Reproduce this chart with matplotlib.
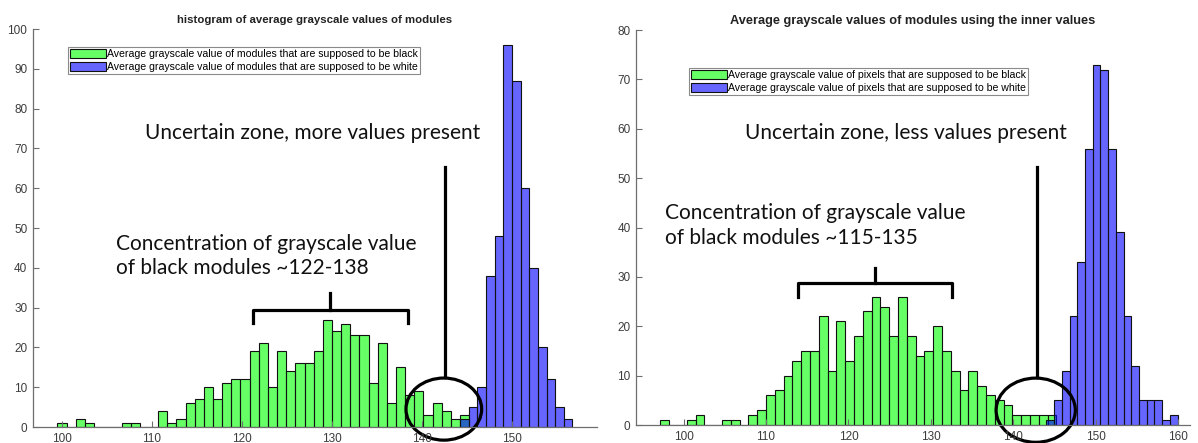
import numpy as np
import matplotlib
matplotlib.use("Agg")
import matplotlib.pyplot as plt
from matplotlib.patches import Ellipse

# ---- data (histogram counts) ----
# every series was binned on its own, so each one has its own first edge and bin width
left_black_counts = [1, 0, 2, 1, 0, 0, 0, 1, 1, 0, 0, 4, 1, 2, 6, 7, 10, 7, 11, 12,
                     12, 19, 21, 10, 19, 14, 16, 16, 19, 27, 24, 26, 23, 23, 11, 21, 6, 15, 8, 9,
                     3, 6, 4, 2, 3]
left_black_bins = (99.5, 1.016)      # first edge, width
left_white_counts = [2, 5, 10, 38, 48, 96, 87, 60, 40, 20, 12, 5, 2]
left_white_bins = (144.2, 0.96)

right_black_counts = [1, 0, 0, 1, 2, 0, 0, 1, 1, 0, 2, 3, 6, 7, 10, 13, 15, 15, 22, 11,
                      21, 13, 18, 23, 26, 24, 18, 26, 18, 14, 15, 20, 15, 11, 7, 11, 8, 6, 5, 4,
                      2, 2, 2, 2, 2]
right_black_bins = (97.2, 1.067)
right_white_counts = [1, 5, 11, 22, 33, 56, 73, 72, 56, 39, 22, 12, 5, 5, 5, 1, 2]
right_white_bins = (144.0, 0.935)

left_title = "histogram of average grayscale values of modules"
right_title = "Average grayscale values of modules using the inner values"
left_labels = ["Average grayscale value of modules that are supposed to be black",
               "Average grayscale value of modules that are supposed to be white"]
right_labels = ["Average grayscale value of pixels that are supposed to be black",
                "Average grayscale value of pixels that are supposed to be white"]

GREEN = (0.0, 1.0, 0.0, 0.6)
BLUE = (0.0, 0.0, 1.0, 0.6)
AXCOL = "#6e6e6e"
TXTCOL = "#3c3c3c"

plt.rcParams["font.family"] = ["Liberation Sans", "DejaVu Sans"]

fig = plt.figure(figsize=(11.98, 4.43), dpi=100)
ax1 = fig.add_axes([0.0275, 0.0361, 0.4708, 0.8984])
ax2 = fig.add_axes([0.5309, 0.0406, 0.4624, 0.8916])


def draw_series(ax, counts, bins, color, label):
    start, w = bins
    x = start + w * np.arange(len(counts))
    ax.bar(x, counts, width=w, align="edge", color=color, edgecolor="#111111",
           linewidth=0.8, label=label)


def style_axes(ax, xlim, ylim, yticks, xticks, title, title_size):
    ax.set_xlim(*xlim)
    ax.set_ylim(*ylim)
    ax.set_yticks(yticks)
    ax.set_xticks(xticks)
    for s in ["top", "right"]:
        ax.spines[s].set_visible(False)
    for s in ["left", "bottom"]:
        ax.spines[s].set_color(AXCOL)
        ax.spines[s].set_linewidth(0.9)
    ax.tick_params(direction="in", length=4, width=0.8, color=AXCOL,
                   labelsize=8.5, labelcolor=TXTCOL, pad=4)
    ax.set_title(title, fontsize=title_size, fontweight="bold", color="#222222", pad=4)


def add_legend(ax, anchor):
    leg = ax.legend(loc="upper left", bbox_to_anchor=anchor, borderaxespad=0,
                    fontsize=7.6, frameon=True, fancybox=False, edgecolor="#8a8a8a",
                    framealpha=1, handlelength=3.4, handleheight=1.0, handletextpad=0.1,
                    labelspacing=0.25, borderpad=0.2)
    leg.get_frame().set_linewidth(0.8)


def bracket(ax, x0, x1, y, yend, ytop):
    xc = (x0 + x1) / 2
    ax.plot([x0, x0, x1, x1], [yend, y, y, yend], color="k", lw=2.3,
            solid_joinstyle="round", clip_on=False)
    ax.plot([xc, xc], [y, ytop], color="k", lw=2.3, clip_on=False)


draw_series(ax1, left_black_counts, left_black_bins, GREEN, left_labels[0])
draw_series(ax1, left_white_counts, left_white_bins, BLUE, left_labels[1])
style_axes(ax1, (96.78, 159.4), (0, 100), range(0, 101, 10), range(100, 151, 10),
           left_title, 8.2)
add_legend(ax1, (0.062, 0.955))

draw_series(ax2, right_black_counts, right_black_bins, GREEN, right_labels[0])
draw_series(ax2, right_white_counts, right_white_bins, BLUE, right_labels[1])
style_axes(ax2, (94.24, 161.4), (0, 80), range(0, 81, 10), range(100, 161, 10),
           right_title, 9.2)
add_legend(ax2, (0.0957, 0.905))

# ---- annotations ----
ann_font = dict(family=["Lato", "DejaVu Sans"], fontsize=15.0, color="#111111")

ax1.text(109.2, 73.9, "Uncertain zone, more values present", ha="left", va="center", **ann_font)
ax1.text(106.0, 46.0, "Concentration of grayscale value", ha="left", va="center", **ann_font)
ax1.text(106.0, 40.0, "of black modules ~122-138", ha="left", va="center", **ann_font)
bracket(ax1, 121.2, 138.4, 29.4, 26.1, 33.7)
ax1.plot([142.5, 142.5], [65.3, 12.6], color="k", lw=2.3, clip_on=False)
ax1.add_patch(Ellipse((142.4, 4.5), 8.4, 15.6, fill=False, lw=2.3, ec="k", clip_on=False))

ax2.text(107.5, 59.1, "Uncertain zone, less values present", ha="left", va="center", **ann_font)
ax2.text(97.8, 42.9, "Concentration of grayscale value", ha="left", va="center", **ann_font)
ax2.text(97.8, 37.9, "of black modules ~115-135", ha="left", va="center", **ann_font)
bracket(ax2, 113.9, 132.5, 28.7, 25.9, 31.8)
ax2.plot([142.8, 142.8], [52.2, 9.7], color="k", lw=2.3, clip_on=False)
ax2.add_patch(Ellipse((142.7, 3.0), 9.6, 13.0, fill=False, lw=2.3, ec="k", clip_on=False))

fig.savefig("out.png", dpi=100)
